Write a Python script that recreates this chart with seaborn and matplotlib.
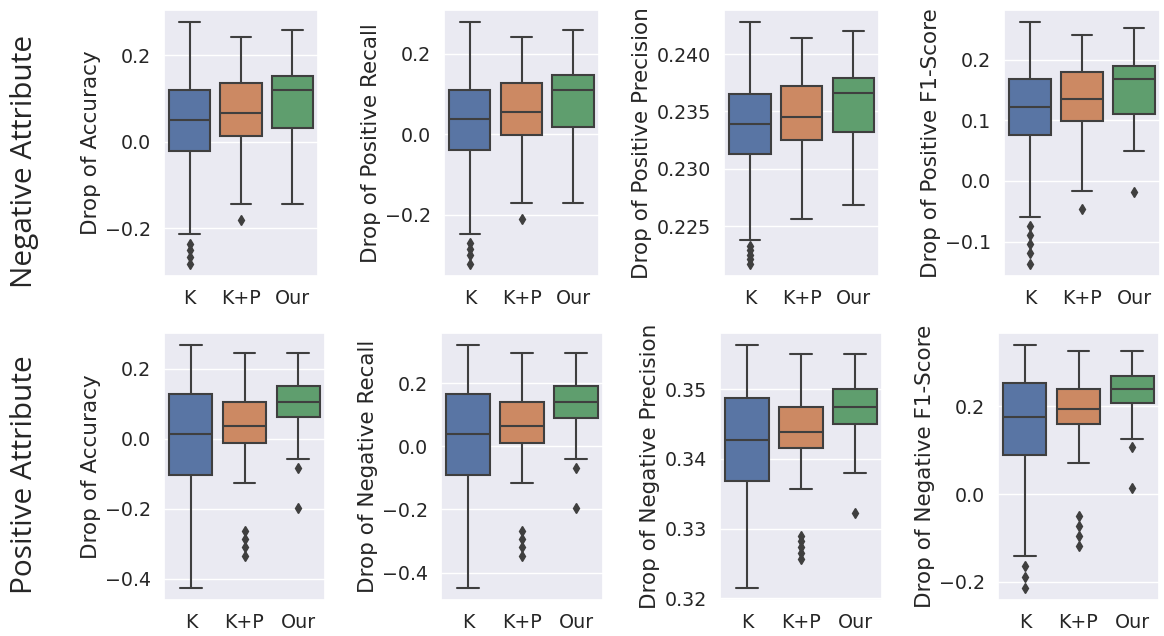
import numpy as np
import pandas as pd
import matplotlib
matplotlib.use("Agg")
import matplotlib.pyplot as plt
import seaborn as sns

methods = ["K", "K+P", "Our"]
row_labels = ["Negative Attribute", "Positive Attribute"]
ylabels = ["Drop of Accuracy", "Drop of Positive Recall",
           "Drop of Positive Precision", "Drop of Positive F1-Score",
           "Drop of Accuracy", "Drop of Negative Recall",
           "Drop of Negative Precision", "Drop of Negative F1-Score"]

# ---- five-number summaries (per method K, K+P, Our) ----
# Row 1, panel 1: Drop of Accuracy
p1_low = [-0.214, -0.1425, -0.1425]
p1_q1 = [-0.021, 0.0137, 0.0328]
p1_med = [0.051, 0.068, 0.120]
p1_q3 = [0.120, 0.136, 0.1516]
p1_high = [0.277, 0.2415, 0.258]
p1_out = [[-0.235, -0.250, -0.266, -0.282], [-0.181], []]
p1_ticks = [-0.2, 0.0, 0.2]

# Row 1, panel 2: Drop of Positive Recall
p2_low = [-0.2475, -0.1713, -0.1713]
p2_q1 = [-0.0402, -0.0025, 0.0172]
p2_med = [0.0369, 0.0549, 0.1115]
p2_q3 = [0.1115, 0.1287, 0.1467]
p2_high = [0.2795, 0.2418, 0.2598]
p2_out = [[-0.270, -0.285, -0.302, -0.323], [-0.2123], []]
p2_ticks = [-0.2, 0.0, 0.2]

# Row 1, panel 3: Drop of Positive Precision
p3_low = [0.2238, 0.2256, 0.2268]
p3_q1 = [0.2313, 0.2325, 0.2332]
p3_med = [0.2339, 0.2345, 0.2366]
p3_q3 = [0.2365, 0.2372, 0.2379]
p3_high = [0.2428, 0.2414, 0.2420]
p3_out = [[0.2233, 0.2229, 0.2225, 0.2221, 0.2217], [], []]
p3_ticks = [0.225, 0.230, 0.235, 0.240]

# Row 1, panel 4: Drop of Positive F1-Score
p4_low = [-0.0587, -0.0168, 0.0489]
p4_q1 = [0.0755, 0.0995, 0.1114]
p4_med = [0.1223, 0.1353, 0.1679]
p4_q3 = [0.1679, 0.1793, 0.1902]
p4_high = [0.2625, 0.2418, 0.2527]
p4_out = [[-0.075, -0.089, -0.104, -0.119, -0.137], [-0.0462], [-0.0179]]
p4_ticks = [-0.1, 0.0, 0.1, 0.2]

# Row 2, panel 5: Drop of Accuracy
p5_low = [-0.4265, -0.126, -0.0588]
p5_q1 = [-0.1043, -0.0123, 0.0607]
p5_med = [0.0133, 0.0351, 0.1052]
p5_q3 = [0.127, 0.1043, 0.1517]
p5_high = [0.2673, 0.2455, 0.2455]
p5_out = [[], [-0.2635, -0.287, -0.311, -0.3355], [-0.0825, -0.199]]
p5_ticks = [-0.4, -0.2, 0.0, 0.2]

# Row 2, panel 6: Drop of Negative Recall
p6_low = [-0.448, -0.1154, -0.0409]
p6_q1 = [-0.0913, 0.0094, 0.0902]
p6_med = [0.0388, 0.063, 0.1406]
p6_q3 = [0.1647, 0.1406, 0.192]
p6_high = [0.320, 0.296, 0.296]
p6_out = [[], [-0.2676, -0.2938, -0.320, -0.3473], [-0.0672, -0.196]]
p6_ticks = [-0.4, -0.2, 0.0, 0.2]

# Row 2, panel 7: Drop of Negative Precision
p7_low = [0.3215, 0.3357, 0.338]
p7_q1 = [0.3368, 0.3415, 0.345]
p7_med = [0.3427, 0.3438, 0.3475]
p7_q3 = [0.3487, 0.3475, 0.350]
p7_high = [0.3563, 0.3550, 0.3550]
p7_out = [[], [0.3290, 0.3282, 0.3273, 0.3265, 0.3257], [0.3322]]
p7_ticks = [0.32, 0.33, 0.34, 0.35]

# Row 2, panel 8: Drop of Negative F1-Score
p8_low = [-0.1407, 0.0711, 0.1256]
p8_q1 = [0.090, 0.1596, 0.2073]
p8_med = [0.1755, 0.1936, 0.239]
p8_q3 = [0.2542, 0.239, 0.2693]
p8_high = [0.3396, 0.326, 0.326]
p8_out = [[-0.1634, -0.1884, -0.214], [-0.05, -0.0726, -0.0953, -0.118], [0.1067, 0.0129]]
p8_ticks = [-0.2, 0.0, 0.2]

panels = [
    (p1_low, p1_q1, p1_med, p1_q3, p1_high, p1_out, p1_ticks),
    (p2_low, p2_q1, p2_med, p2_q3, p2_high, p2_out, p2_ticks),
    (p3_low, p3_q1, p3_med, p3_q3, p3_high, p3_out, p3_ticks),
    (p4_low, p4_q1, p4_med, p4_q3, p4_high, p4_out, p4_ticks),
    (p5_low, p5_q1, p5_med, p5_q3, p5_high, p5_out, p5_ticks),
    (p6_low, p6_q1, p6_med, p6_q3, p6_high, p6_out, p6_ticks),
    (p7_low, p7_q1, p7_med, p7_q3, p7_high, p7_out, p7_ticks),
    (p8_low, p8_q1, p8_med, p8_q3, p8_high, p8_out, p8_ticks),
]


def build_frame(low, q1, med, q3, high, out):
    """Sample set whose quartiles/whiskers/outliers equal the read summary."""
    rows = []
    for i, m in enumerate(methods):
        vals = list(out[i]) + [low[i]] + [q1[i]] * 20 + [med[i]] * 20 + [q3[i]] * 20 + [high[i]]
        rows += [(m, v) for v in vals]
    return pd.DataFrame(rows, columns=["method", "value"])


sns.set_theme(style="darkgrid")
plt.rcParams["font.family"] = ["DejaVu Sans"]

W, H = 1164, 636
fig = plt.figure(figsize=(W / 100, H / 100), dpi=100)

# axes boxes in pixels (x0, x1, y_top, y_bottom)
rects = [
    (164, 318, 10, 276), (444, 599, 10, 276), (724, 879, 10, 276), (1004, 1160, 10, 276),
    (164, 325, 333, 600), (441, 603, 333, 600), (720, 882, 333, 600), (998, 1159, 333, 600),
]

line_c = "#3f3f3f"
for k, (pan, r) in enumerate(zip(panels, rects)):
    low, q1, med, q3, high, out, ticks = pan
    x0, x1, yt, yb = r
    ax = fig.add_axes([x0 / W, 1 - yb / H, (x1 - x0) / W, (yb - yt) / H])
    df = build_frame(low, q1, med, q3, high, out)
    sns.boxplot(data=df, x="method", y="value", hue="method", order=methods,
                hue_order=methods, palette="deep", legend=False, ax=ax,
                linewidth=1.5, linecolor=line_c, width=0.8, fliersize=5,
                flierprops=dict(marker="d", markerfacecolor=line_c,
                                markeredgecolor=line_c))
    ax.set_yticks(ticks)
    ax.set_xlabel("")
    ax.set_ylabel(ylabels[k], fontsize=15.5, labelpad=3)
    ax.tick_params(axis="both", labelsize=13.7)

fig.text(25 / W, 1 - 161 / H, row_labels[0], rotation=90, ha="center", va="center",
         fontsize=21.5, family=["Open Sans", "DejaVu Sans"])
fig.text(25 / W, 1 - 475 / H, row_labels[1], rotation=90, ha="center", va="center",
         fontsize=21.5, family=["Open Sans", "DejaVu Sans"])

fig.savefig("out.png", dpi=100)
